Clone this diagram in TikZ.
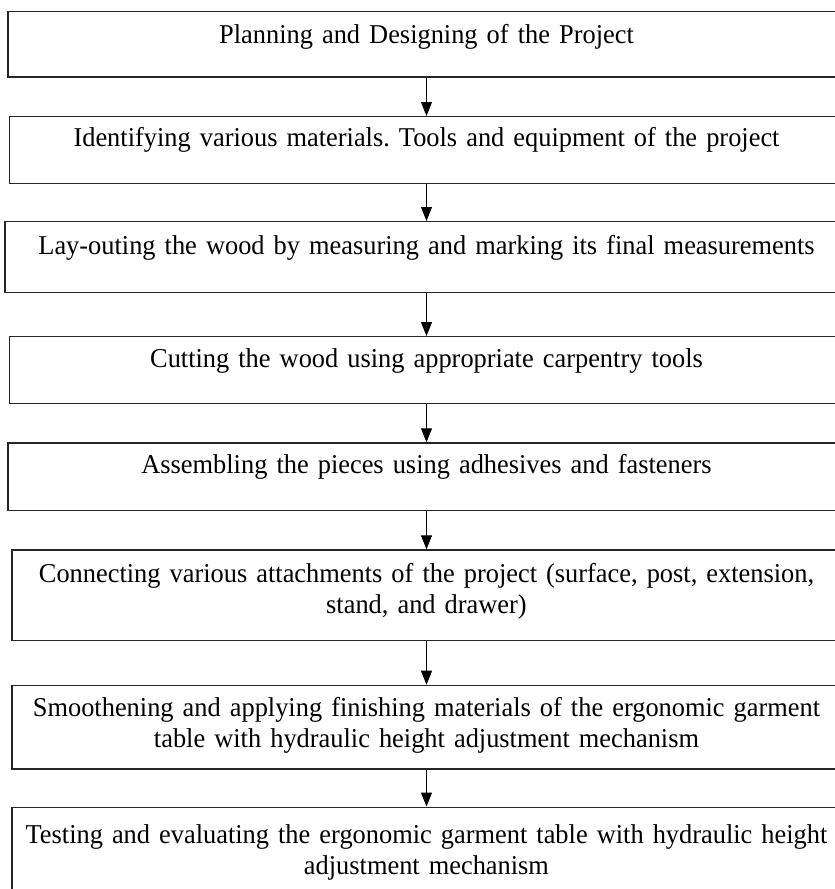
\documentclass[tikz,border=0pt]{standalone}
\usepackage{fontspec}
\setmainfont[FakeStretch=0.97]{Liberation Serif}
\usetikzlibrary{arrows.meta, positioning}
\tikzstyle{stepbox} = [rectangle,
anchor=north,
inner sep=0pt,
align=center,
line width=1.4pt,
draw=black!85]
\tikzstyle{arrow} = [->, line width=1pt]

\begin{document}
\frenchspacing
\begin{tikzpicture}[x=1pt, y=-1pt, >={Triangle[length=14pt, width=11pt]},
    font=\fontsize{27.2}{31}\selectfont]
      \useasboundingbox (0,0) rectangle (835,889);
      \clip (0,0) rectangle (835,889);

      \node[stepbox, text width=837pt, text height=32.5pt, text depth=33.2pt] (plan)     at (426.5,10.7)  {Planning and Designing of the Project};
      \node[stepbox, text width=834pt, text height=30pt, text depth=36.7pt]   (ident)    at (426.5,116)   {Identifying various materials. Tools and equipment of the project};
      \node[stepbox, text width=843pt, text height=33pt, text depth=38pt]     (layout)   at (426.5,221)   {Lay-outing the wood by measuring and marking its final measurements};
      \node[stepbox, text width=834pt, text height=31pt, text depth=35.7pt]   (cut)      at (426.5,336)   {Cutting the wood using appropriate carpentry tools};
      \node[stepbox, text width=837pt, text height=30.4pt, text depth=37.3pt] (assemble) at (426.5,442.3) {Assembling the pieces using adhesives and fasteners};
      \node[stepbox, text width=829pt, text height=32.4pt, text depth=58pt]   (connect)  at (426.5,549.3) {Connecting various attachments of the project (surface, post, extension,\\ stand, and drawer)};
      \node[stepbox, text width=829pt, text height=31.3pt, text depth=52.3pt] (smooth)   at (426.5,684.7) {Smoothening and applying finishing materials of the ergonomic garment\\ table with hydraulic height adjustment mechanism};
      \node[stepbox, text width=829pt, text height=36pt, text depth=60pt]     (test)     at (426.5,806.5) {Testing and evaluating the ergonomic garment table with hydraulic height\\ adjustment mechanism};

      \draw [arrow] (plan)     -- (ident);
      \draw [arrow] (ident)    -- (layout);
      \draw [arrow] (layout)   -- (cut);
      \draw [arrow] (cut)      -- (assemble);
      \draw [arrow] (assemble) -- (connect);
      \draw [arrow] (connect)  -- (smooth);
      \draw [arrow] (smooth)   -- (test);
    \end{tikzpicture}
\end{document}
